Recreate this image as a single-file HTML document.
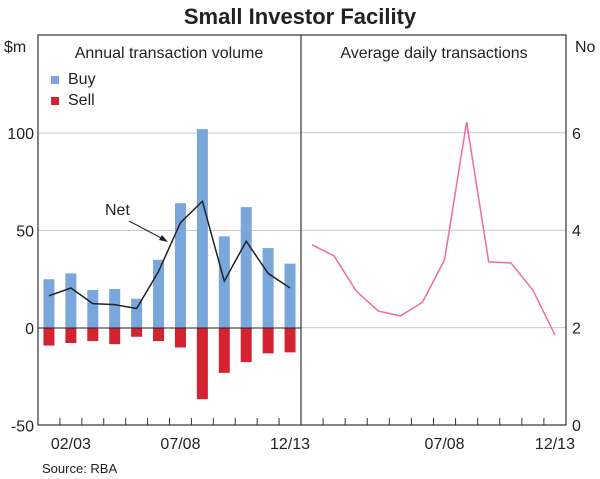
<!DOCTYPE html>
<html><head><meta charset="utf-8"><style>
body{margin:0;background:#fff}
svg{display:block;font-family:"Liberation Sans",Arial,sans-serif}
</style></head><body>
<svg id="c" width="600" height="479" viewBox="0 0 600 479" xmlns="http://www.w3.org/2000/svg">
<text x="300" y="24" text-anchor="middle" font-size="22" font-weight="bold" fill="#222">Small Investor Facility</text>
<g id="grid"></g>
<g id="bars"></g>
<g id="lines"></g>
<g id="frame"></g>
<text x="4" y="52" font-size="16" fill="#222">$m</text>
<text x="575" y="52" font-size="16" fill="#222">No</text>
<text x="169" y="58" text-anchor="middle" font-size="16" fill="#222">Annual transaction volume</text>
<text x="434" y="58" text-anchor="middle" font-size="16" fill="#222">Average daily transactions</text>
<g><rect x="51" y="76" width="8" height="8" fill="#7aa7db"/><text x="68" y="84" font-size="16" fill="#222">Buy</text></g>
<g><rect x="51" y="97" width="8" height="8" fill="#d52231"/><text x="68" y="105" font-size="16" fill="#222">Sell</text></g>
<text x="105" y="215" font-size="16" fill="#222">Net</text>
<line x1="129" y1="221" x2="165" y2="240" stroke="#222" stroke-width="1"/>
<polygon points="168,242 159,240 162,235" fill="#222"/>
<text x="42" y="473" font-size="13" fill="#222">Source: RBA</text>
</svg>
<script>
const categories=["01/02","02/03","03/04","04/05","05/06","06/07","07/08","08/09","09/10","10/11","11/12","12/13"];
const buyValues=[25,28,19.5,20,15,35,64,102,47,62,41,33];
const sellValues=[-9,-7.7,-6.7,-8.3,-4.5,-6.7,-10,-36.5,-23,-17.5,-13,-12.5];
const netValues=[16.5,20.5,12.5,12,10,29,54,65,24,44.5,28,20.5];
const dailyValues=[3.7,3.47,2.75,2.34,2.24,2.52,3.39,6.22,3.35,3.33,2.77,1.85];
const leftTicks=[-50,0,50,100];
const rightTicks=[0,2,4,6];
const xLabels=["02/03","07/08","12/13"];
const NS="http://www.w3.org/2000/svg";
const L0=38,L1=301,R0=301,R1=566,TOP=35,BOT=425;
const slot=(L1-L0)/categories.length;
const yL=v=>328-v*1.95;
const yR=v=>425-v*48.7;
const xL=i=>L0+(i+0.5)*slot;
const xR=i=>R0+(i+0.5)*((R1-R0)/categories.length);
function mk(tag,attrs,parent){const e=document.createElementNS(NS,tag);for(const k in attrs)e.setAttribute(k,attrs[k]);document.getElementById(parent).appendChild(e);return e;}
leftTicks.forEach(t=>{
 if(t>-50&&t!==0){const g=mk('line',{x1:L0,x2:L1,y1:yL(t),y2:yL(t),stroke:'#c8c8c8','stroke-width':1},'grid');
 
 }
 const tx=mk('text',{x:34,y:yL(t)+6,'text-anchor':'end','font-size':16,fill:'#222'},'frame');tx.textContent=t;
 
 
});
rightTicks.forEach(t=>{
 if(t>0){const g=mk('line',{x1:R0,x2:R1,y1:yR(t),y2:yR(t),stroke:'#c8c8c8','stroke-width':1},'grid');
 
 }
 const tx=mk('text',{x:572,y:yR(t)+6,'font-size':16,fill:'#222'},'frame');tx.textContent=t;
 
 
});
const bw=11;
categories.forEach((c,i)=>{
 const b=mk('rect',{x:xL(i)-bw/2,y:yL(buyValues[i]),width:bw,height:yL(0)-yL(buyValues[i]),fill:'#7aa7db'},'bars');
 
 
 const s=mk('rect',{x:xL(i)-bw/2,y:yL(0),width:bw,height:yL(sellValues[i])-yL(0),fill:'#d52231'},'bars');
 
 
});
const z=mk('line',{x1:L0,x2:L1,y1:yL(0),y2:yL(0),stroke:'#222','stroke-width':1},'lines');


const net=mk('polyline',{points:netValues.map((v,i)=>xL(i)+','+yL(v)).join(' '),fill:'none',stroke:'#222','stroke-width':1.5},'lines');


const d=mk('polyline',{points:dailyValues.map((v,i)=>xR(i)+','+yR(v)).join(' '),fill:'none',stroke:'#f06aa8','stroke-width':1.5},'lines');


const fr=mk('rect',{x:L0,y:TOP,width:R1-L0,height:BOT-TOP,fill:'none',stroke:'#333','stroke-width':1.2},'frame');


const dv=mk('line',{x1:L1,x2:L1,y1:TOP,y2:BOT,stroke:'#333','stroke-width':1.2},'frame');


for(let i=1;i<categories.length;i++){
 const a=mk('line',{x1:L0+i*slot,x2:L0+i*slot,y1:BOT,y2:BOT-7,stroke:'#333'},'frame');
 
 
 const rs=(R1-R0)/categories.length;
 const b=mk('line',{x1:R0+i*rs,x2:R0+i*rs,y1:BOT,y2:BOT-7,stroke:'#333'},'frame');
 
 
}
xLabels.forEach(l=>{
 const i=categories.indexOf(l);
 const a=mk('text',{x:xL(i),y:449,'text-anchor':'middle','font-size':16,fill:'#222'},'frame');a.textContent=l;
 
 
 if(i>1){const b=mk('text',{x:xR(i),y:449,'text-anchor':'middle','font-size':16,fill:'#222'},'frame');b.textContent=l;
 
 }
});
</script>
</body></html>
